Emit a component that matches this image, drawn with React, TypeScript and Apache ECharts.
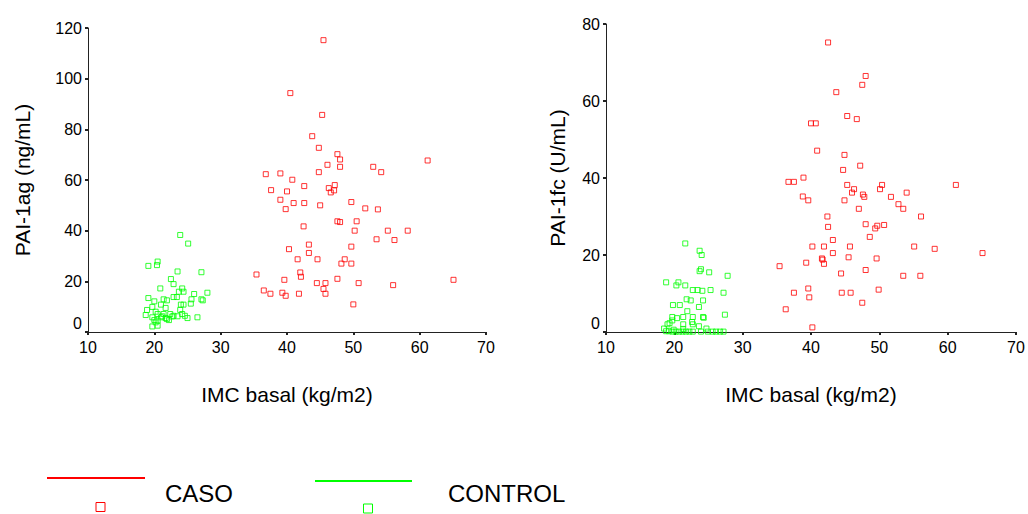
import React, { useEffect, useRef } from "react";
import * as echarts from "echarts";

// IMC basal (kg/m2) vs PAI-1ag (ng/mL)
const casoAg: [number, number][] = [
  [45.5, 115.2], [40.5, 94.3], [45.3, 85.7], [43.8, 77.3], [44.8, 72.7], [47.6, 70.2], [48.0, 68.1],
  [46.1, 66.0], [48.0, 65.2], [53.0, 65.2], [61.2, 67.7], [54.2, 63.1], [36.8, 62.3], [39.0, 62.6],
  [44.8, 63.1], [40.8, 60.1], [42.6, 57.6], [47.2, 58.0], [46.3, 56.8], [47.1, 55.9], [46.6, 55.1],
  [37.6, 56.0], [40.0, 55.5], [39.0, 52.2], [41.0, 50.9], [42.6, 50.9], [39.8, 48.5], [45.0, 50.0],
  [49.7, 51.3], [51.8, 48.8], [53.7, 48.4], [47.6, 43.7], [48.0, 43.4], [50.5, 43.7], [42.5, 41.7],
  [50.2, 40.0], [55.2, 40.0], [58.2, 40.0], [53.5, 36.6], [56.2, 36.3], [43.3, 34.5], [40.3, 32.7],
  [49.7, 33.7], [43.3, 31.2], [41.6, 28.7], [44.6, 28.7], [48.7, 28.7], [48.2, 27.0], [49.7, 27.0],
  [35.4, 22.7], [42.0, 23.5], [42.1, 21.8], [39.6, 20.6], [47.6, 21.0], [65.1, 20.6], [44.5, 19.3],
  [45.8, 19.3], [50.8, 19.3], [56.0, 18.5], [45.5, 17.0], [36.5, 16.4], [37.5, 15.1], [39.3, 15.5],
  [39.8, 14.3], [41.8, 15.1], [45.8, 15.1], [50.0, 10.9],
];

const controlAg: [number, number][] = [
  [23.9, 38.3], [25.1, 34.9], [20.5, 27.8], [20.4, 26.4], [19.1, 26.1], [23.5, 23.9], [27.1, 23.6],
  [22.5, 20.9], [22.9, 18.9], [20.9, 17.2], [24.2, 17.2], [24.4, 15.9], [23.7, 15.9], [28.0, 15.5],
  [26.0, 15.0], [19.1, 13.4], [23.4, 13.8], [22.9, 13.8], [25.6, 12.9], [27.1, 12.9], [27.3, 12.5],
  [21.4, 12.9], [21.9, 12.5], [20.0, 12.1], [25.5, 11.2], [24.0, 10.8], [24.4, 10.8], [21.0, 10.8],
  [19.7, 9.9], [21.7, 9.5], [23.9, 8.7], [18.9, 8.7], [18.7, 6.7], [20.2, 8.0], [20.5, 7.1],
  [21.4, 7.1], [22.4, 7.1], [24.2, 7.1], [22.9, 6.4], [24.6, 6.4], [25.0, 5.5], [26.5, 5.8],
  [19.7, 5.8], [21.0, 5.8], [21.9, 5.1], [22.2, 4.7], [20.0, 4.7], [20.5, 4.5], [20.2, 3.8],
  [19.7, 2.2], [20.5, 2.5], [21.7, 5.5], [23.5, 6.2], [22.7, 6.1], [21.2, 6.2],
];

// IMC basal (kg/m2) vs PAI-1fc (U/mL)
const casoFc: [number, number][] = [
  [42.5, 75.2], [48.0, 66.5], [47.5, 64.2], [43.7, 62.3], [45.3, 56.1], [46.7, 55.3], [40.0, 54.2],
  [40.7, 54.2], [40.9, 47.1], [44.9, 46.0], [47.2, 43.2], [44.7, 42.1], [38.9, 40.1], [36.7, 39.0],
  [37.5, 39.0], [45.3, 38.2], [50.4, 38.2], [61.2, 38.2], [50.1, 37.1], [46.3, 37.1], [46.0, 36.2],
  [54.0, 36.2], [47.6, 35.7], [47.8, 35.1], [51.7, 35.1], [38.8, 35.2], [39.6, 34.2], [44.9, 34.2],
  [52.8, 33.2], [53.5, 32.0], [47.0, 32.0], [42.4, 30.0], [56.1, 30.0], [48.0, 28.0], [49.7, 27.6],
  [50.7, 27.8], [49.4, 26.9], [42.5, 27.3], [48.6, 24.7], [43.2, 23.9], [40.2, 22.2], [41.9, 22.2],
  [45.7, 22.2], [55.1, 22.2], [58.1, 21.6], [65.1, 20.5], [43.2, 20.5], [45.5, 19.4], [41.6, 19.1],
  [41.7, 18.8], [49.6, 19.1], [39.3, 18.0], [41.9, 17.7], [35.4, 17.1], [48.0, 16.1], [44.4, 15.2],
  [53.5, 14.6], [56.0, 14.6], [39.6, 11.3], [49.9, 11.0], [37.5, 10.2], [44.5, 10.2], [45.8, 10.2],
  [39.75, 9.0], [47.5, 7.6], [36.3, 5.9], [40.2, 1.2],
];

const controlFc: [number, number][] = [
  [21.6, 23.0], [23.7, 21.1], [24.0, 20.0], [23.9, 16.3], [23.7, 15.8], [25.1, 15.5], [27.8, 14.6],
  [18.8, 12.9], [20.6, 12.9], [20.3, 12.1], [21.6, 12.1], [22.7, 10.9], [23.4, 10.9], [24.1, 10.7],
  [25.3, 10.9], [27.2, 10.2], [21.8, 8.5], [22.4, 8.2], [24.2, 8.2], [19.8, 7.0], [20.8, 7.0],
  [23.6, 6.5], [21.9, 5.4], [27.4, 4.5], [19.7, 3.9], [22.7, 3.9], [24.2, 3.9], [24.3, 3.7],
  [21.3, 3.9], [20.4, 3.6], [19.7, 3.0], [19.3, 2.3], [19.0, 2.0], [21.3, 2.0], [22.6, 2.6],
  [22.7, 2.0], [23.6, 1.5], [18.5, 0.9], [24.7, 0.9], [18.8, 0.2], [19.2, 0.2], [19.7, 0.1],
  [20.2, 0.1], [20.7, 0.1], [21.2, 0.1], [21.7, 0.1], [22.2, 0.1], [22.7, 0.1], [23.9, 0.1],
  [24.9, 0.1], [25.6, 0.1], [26.1, 0.1], [26.7, 0.1], [27.2, 0.1], [19.9, 0.6], [21.3, 0.8],
];

const xTicks = { min: 10, max: 70, interval: 10 };
const yAgTicks = { min: 0, max: 120, interval: 20 };
const yFcTicks = { min: 0, max: 80, interval: 20 };

const xTitle = "IMC basal (kg/m2)";
const yAgTitle = "PAI-1ag (ng/mL)";
const yFcTitle = "PAI-1fc (U/mL)";
const seriesNames = ["CASO", "CONTROL"];

const FONT = "'Liberation Sans', Arial, sans-serif";
const RED = "#ff0000";
const GREEN = "#00ff00";
const AXIS = "#222";

function xAxisDef(gridIndex: number) {
  return {
    type: "value",
    gridIndex,
    ...xTicks,
    name: xTitle,
    nameLocation: "middle",
    nameGap: 52,
    nameTextStyle: { fontFamily: FONT, fontSize: 21, color: "#000" },
    splitLine: { show: false },
    axisLine: { show: true, lineStyle: { color: AXIS, width: 1 } },
    axisTick: { show: true, length: 3, lineStyle: { color: AXIS, width: 2 } },
    axisLabel: { fontFamily: FONT, fontSize: 16, color: "#000", margin: 7 },
  };
}

function yAxisDef(gridIndex: number, ticks: any, title: string, gap: number) {
  return {
    type: "value",
    gridIndex,
    ...ticks,
    name: title,
    nameLocation: "middle",
    nameGap: gap,
    nameTextStyle: { fontFamily: FONT, fontSize: 21, color: "#000" },
    splitLine: { show: false },
    axisLine: { show: true, lineStyle: { color: AXIS, width: 1 } },
    axisTick: { show: true, length: 3, lineStyle: { color: AXIS, width: 2 } },
    axisLabel: {
      fontFamily: FONT,
      fontSize: 16,
      color: "#000",
      margin: 6,
      formatter: (v: number) => (v === 0 ? "{z|0}" : String(v)),
      rich: { z: { fontFamily: FONT, fontSize: 16, color: "#000", padding: [0, 0, 18, 0] } },
    },
  };
}

function scatter(name: string, data: [number, number][], color: string, idx: number) {
  return {
    type: "scatter",
    name,
    xAxisIndex: idx,
    yAxisIndex: idx,
    data,
    symbol: "rect",
    symbolSize: 5,
    itemStyle: { color: "rgba(255,255,255,0)", borderColor: color, borderWidth: 1 },
  };
}

export default function App() {
  const ref = useRef<HTMLDivElement>(null);
  useEffect(() => {
    if (!ref.current) return;
    const chart = echarts.init(ref.current, undefined, { renderer: "svg" });
    chart.setOption({
      animation: false,
      backgroundColor: "#fff",
      textStyle: { fontFamily: FONT },
      grid: [
        { left: 88, top: 28, width: 398, height: 304 },
        { left: 606, top: 24, width: 410, height: 308 },
      ],
      xAxis: [xAxisDef(0), xAxisDef(1)],
      yAxis: [yAxisDef(0, yAgTicks, yAgTitle, 55), yAxisDef(1, yFcTicks, yFcTitle, 38)],
      series: [
        scatter(seriesNames[0], casoAg, RED, 0),
        scatter(seriesNames[1], controlAg, GREEN, 0),
        scatter(seriesNames[0], casoFc, RED, 1),
        scatter(seriesNames[1], controlFc, GREEN, 1),
      ],
      graphic: [
        { type: "line", shape: { x1: 47, y1: 478, x2: 145, y2: 478 }, style: { stroke: RED, lineWidth: 2 } },
        { type: "rect", shape: { x: 96, y: 502.5, width: 9, height: 9 }, style: { fill: "none", stroke: RED, lineWidth: 1 } },
        { type: "text", x: 165, y: 493, style: { text: seriesNames[0], fontFamily: FONT, fontSize: 24, fill: "#000", verticalAlign: "middle" } },
        { type: "line", shape: { x1: 315, y1: 481, x2: 412, y2: 481 }, style: { stroke: GREEN, lineWidth: 2 } },
        { type: "rect", shape: { x: 363.5, y: 504, width: 9, height: 9 }, style: { fill: "none", stroke: GREEN, lineWidth: 1 } },
        { type: "text", x: 448, y: 493, style: { text: seriesNames[1], fontFamily: FONT, fontSize: 24, fill: "#000", verticalAlign: "middle" } },
      ],
    });
    return () => chart.dispose();
  }, []);
  return (
    <div
      ref={ref}
      style={{ position: "absolute", left: 0, top: 0, width: 1028, height: 514, background: "#fff" }}
    />
  );
}
